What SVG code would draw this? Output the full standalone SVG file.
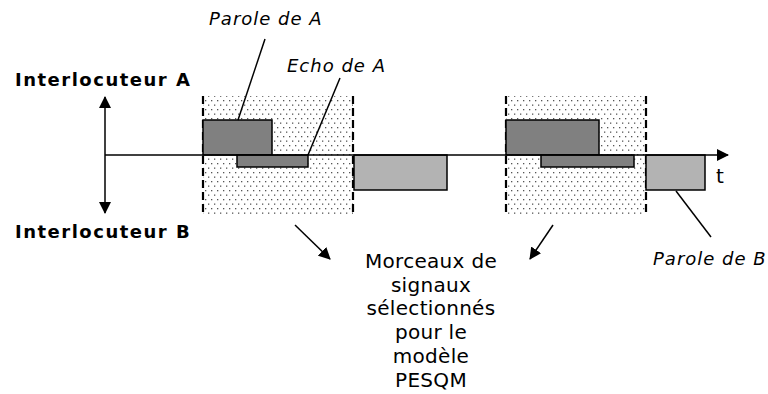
<svg xmlns="http://www.w3.org/2000/svg" width="768" height="394" viewBox="0 0 768 394">
<style>
.lbl{font-family:"DejaVu Sans",Verdana,sans-serif;font-size:18px;fill:#000}
.it{font-style:italic;letter-spacing:1px}
.bd{font-weight:bold;letter-spacing:1.5px}
.mid{font-family:"DejaVu Sans",Verdana,sans-serif;font-size:20px;fill:#000;text-anchor:middle;letter-spacing:0.3px}
.ln{stroke:#000;stroke-width:1.5;fill:none}
.dash{stroke:#000;stroke-width:2.2;stroke-dasharray:8,4;fill:none}
.a{fill:#808080;stroke:#000;stroke-width:1.5}
.b{fill:#b3b3b3;stroke:#000;stroke-width:1.5}
</style>
<defs>
<pattern id="dots" width="6" height="9" patternUnits="userSpaceOnUse">
<rect x="1" y="1" width="1.3" height="1.3" fill="#555"/>
<rect x="4" y="5.5" width="1.3" height="1.3" fill="#555"/>
</pattern>
<marker id="ah" markerWidth="12" markerHeight="12" viewBox="0 0 12 12" refX="11" refY="6" orient="auto" markerUnits="userSpaceOnUse">
<path d="M0,0 L12,6 L0,12 Z" fill="#000"/>
</marker>
</defs>

<g id="zone1">
<rect x="203" y="96" width="150" height="119" fill="url(#dots)"/>
<line class="dash" x1="203" y1="96" x2="203" y2="215"/>
<line class="dash" x1="353" y1="96" x2="353" y2="215"/>
</g>
<g id="zone2">
<rect x="506" y="96" width="140" height="119" fill="url(#dots)"/>
<line class="dash" x1="506" y1="96" x2="506" y2="215"/>
<line class="dash" x1="646" y1="96" x2="646" y2="215"/>
</g>

<g id="paroleA1"><rect class="a" x="203" y="120" width="69" height="35"/></g>
<g id="echoA1"><rect class="a" x="237" y="155" width="71" height="12"/></g>
<g id="paroleB1"><rect class="b" x="354" y="155" width="93" height="35"/></g>
<g id="paroleA2"><rect class="a" x="506" y="120" width="93" height="35"/></g>
<g id="echoA2"><rect class="a" x="541" y="155" width="93" height="12"/></g>
<g id="paroleB2"><rect class="b" x="646" y="155" width="59" height="35"/></g>

<g id="connectors">
<line class="ln" x1="105" y1="155" x2="728" y2="155" marker-end="url(#ah)"/>
<line class="ln" x1="105" y1="155" x2="105" y2="97" marker-end="url(#ah)"/>
<line class="ln" x1="105" y1="155" x2="105" y2="213" marker-end="url(#ah)"/>
<line class="ln" x1="265" y1="39" x2="238" y2="120"/>
<line class="ln" x1="340" y1="78" x2="308" y2="155"/>
<line class="ln" x1="676" y1="191" x2="711" y2="237"/>
<line class="ln" x1="295" y1="225" x2="330" y2="259" marker-end="url(#ah)"/>
<line class="ln" x1="553" y1="225" x2="530" y2="259" marker-end="url(#ah)"/>
</g>

<g id="labels">
<text class="lbl bd" x="15" y="86">Interlocuteur A</text>
<text class="lbl bd" x="15" y="238">Interlocuteur B</text>
<text class="lbl it" x="209" y="25">Parole de A</text>
<text class="lbl it" x="287" y="72">Echo de A</text>
<text class="lbl it" x="653" y="265">Parole de B</text>
<text class="lbl" x="716" y="183" style="font-size:20px">t</text>
</g>
<g id="selection">
<text class="mid" x="431" y="268">Morceaux de</text>
<text class="mid" x="431" y="292">signaux</text>
<text class="mid" x="431" y="315">sélectionnés</text>
<text class="mid" x="431" y="339">pour le</text>
<text class="mid" x="431" y="363">modèle</text>
<text class="mid" x="431" y="387">PESQM</text>
</g>
</svg>
